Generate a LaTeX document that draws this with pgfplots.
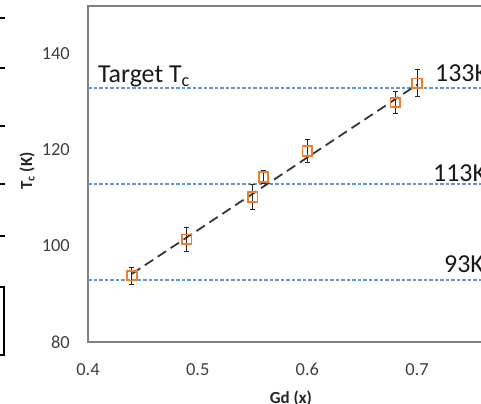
\documentclass[border=0pt]{standalone}
\usepackage{pgfplots}
\pgfplotsset{compat=1.18}
\usepackage{fontspec}
\setmainfont{Carlito}
\definecolor{axgray}{RGB}{128,128,128}
\definecolor{refblue}{RGB}{90,152,218}
\definecolor{mkorange}{RGB}{237,125,49}
\definecolor{fitgray}{RGB}{55,55,55}
\begin{document}
\begin{tikzpicture}[x=1bp,y=1bp]
\useasboundingbox (0,0) rectangle (481,403);
\clip (0,0) rectangle (481,403);
% remnants of the neighbouring panel
\foreach \yy in {18,68,126,184,236} {\draw[line width=2bp,black] (-2,403-\yy) -- (5,403-\yy);}
\draw[line width=1.6bp,black] (-6,403-287) rectangle (4,403-355);
\begin{axis}[
  at={(88bp,61bp)}, anchor=south west,
  scale only axis, width=405.9bp, height=336bp,
  xmin=0.4, xmax=0.77, ymin=80, ymax=150,
  axis line style={draw=axgray, line width=1.8bp},
  xtick={0.4,0.5,0.6,0.7}, ytick={80,100,120,140},
  major tick length=0pt,
  xticklabel style={/pgf/number format/fixed,/pgf/number format/precision=1,/pgf/number format/fixed zerofill},
  tick label style={font=\fontsize{18.5}{20}\selectfont, text=black!75, inner sep=0pt},
  /pgf/number format/assume math mode=true,
  yticklabel style={anchor=east, xshift=-18bp},
  xticklabel style={anchor=north, yshift=-21bp},
  xlabel={Gd (x)}, ylabel={T\textsubscript{c} (K)},
  label style={font=\bfseries\fontsize{17}{19}\selectfont, text=black!85},
  xlabel style={at={(axis description cs:0.5,-0.136)}, anchor=north},
  ylabel style={at={(axis description cs:-0.150,0.509)}, anchor=center, rotate=0},
  clip=false,
]
\addplot[draw=refblue, line width=1.8bp, dash pattern=on 3.5bp off 2bp, mark=none] coordinates {(0.4,133) (0.77,133)};
\addplot[draw=refblue, line width=1.8bp, dash pattern=on 3.5bp off 2bp, mark=none] coordinates {(0.4,113) (0.77,113)};
\addplot[draw=refblue, line width=1.8bp, dash pattern=on 3.5bp off 2bp, mark=none] coordinates {(0.4,93) (0.77,93)};
\addplot[fitgray, line width=1.8bp, dash pattern=on 10bp off 5.5bp] coordinates {(0.44,94.2) (0.70,133.6)};
\addplot[only marks, mark=square, mark size=4.8bp,
  mark options={draw=mkorange, line width=1.7bp, fill=none, solid},
  error bars/.cd, y dir=both, y explicit,
  error bar style={line width=1.1bp, black!85},
  error mark options={rotate=90, mark size=2.5bp, line width=1.1bp, black!85}]
coordinates {
  (0.44,93.8) +- (0,1.8)
  (0.49,101.4) +- (0,2.5)
  (0.55,110.2) +- (0,2.6)
  (0.56,114.4) +- (0,1.3)
  (0.60,119.8) +- (0,2.4)
  (0.68,129.9) +- (0,2.3)
  (0.70,133.9) +- (0,2.8)
};
\node[anchor=base west, inner sep=0pt, font=\fontsize{26}{28}\selectfont, text=black!90] at (axis cs:0.409,134.0) {Target T\textsubscript{c}};
\node[anchor=base west, inner sep=0pt, font=\fontsize{26}{28}\selectfont, text=black!90] at (axis cs:0.7163,134.2) {133K};
\node[anchor=base west, inner sep=0pt, font=\fontsize{26}{28}\selectfont, text=black!90] at (axis cs:0.7145,113.4) {113K};
\node[anchor=base west, inner sep=0pt, font=\fontsize{26}{28}\selectfont, text=black!90] at (axis cs:0.7245,94.4) {93K};
\end{axis}
\end{tikzpicture}
\end{document}
